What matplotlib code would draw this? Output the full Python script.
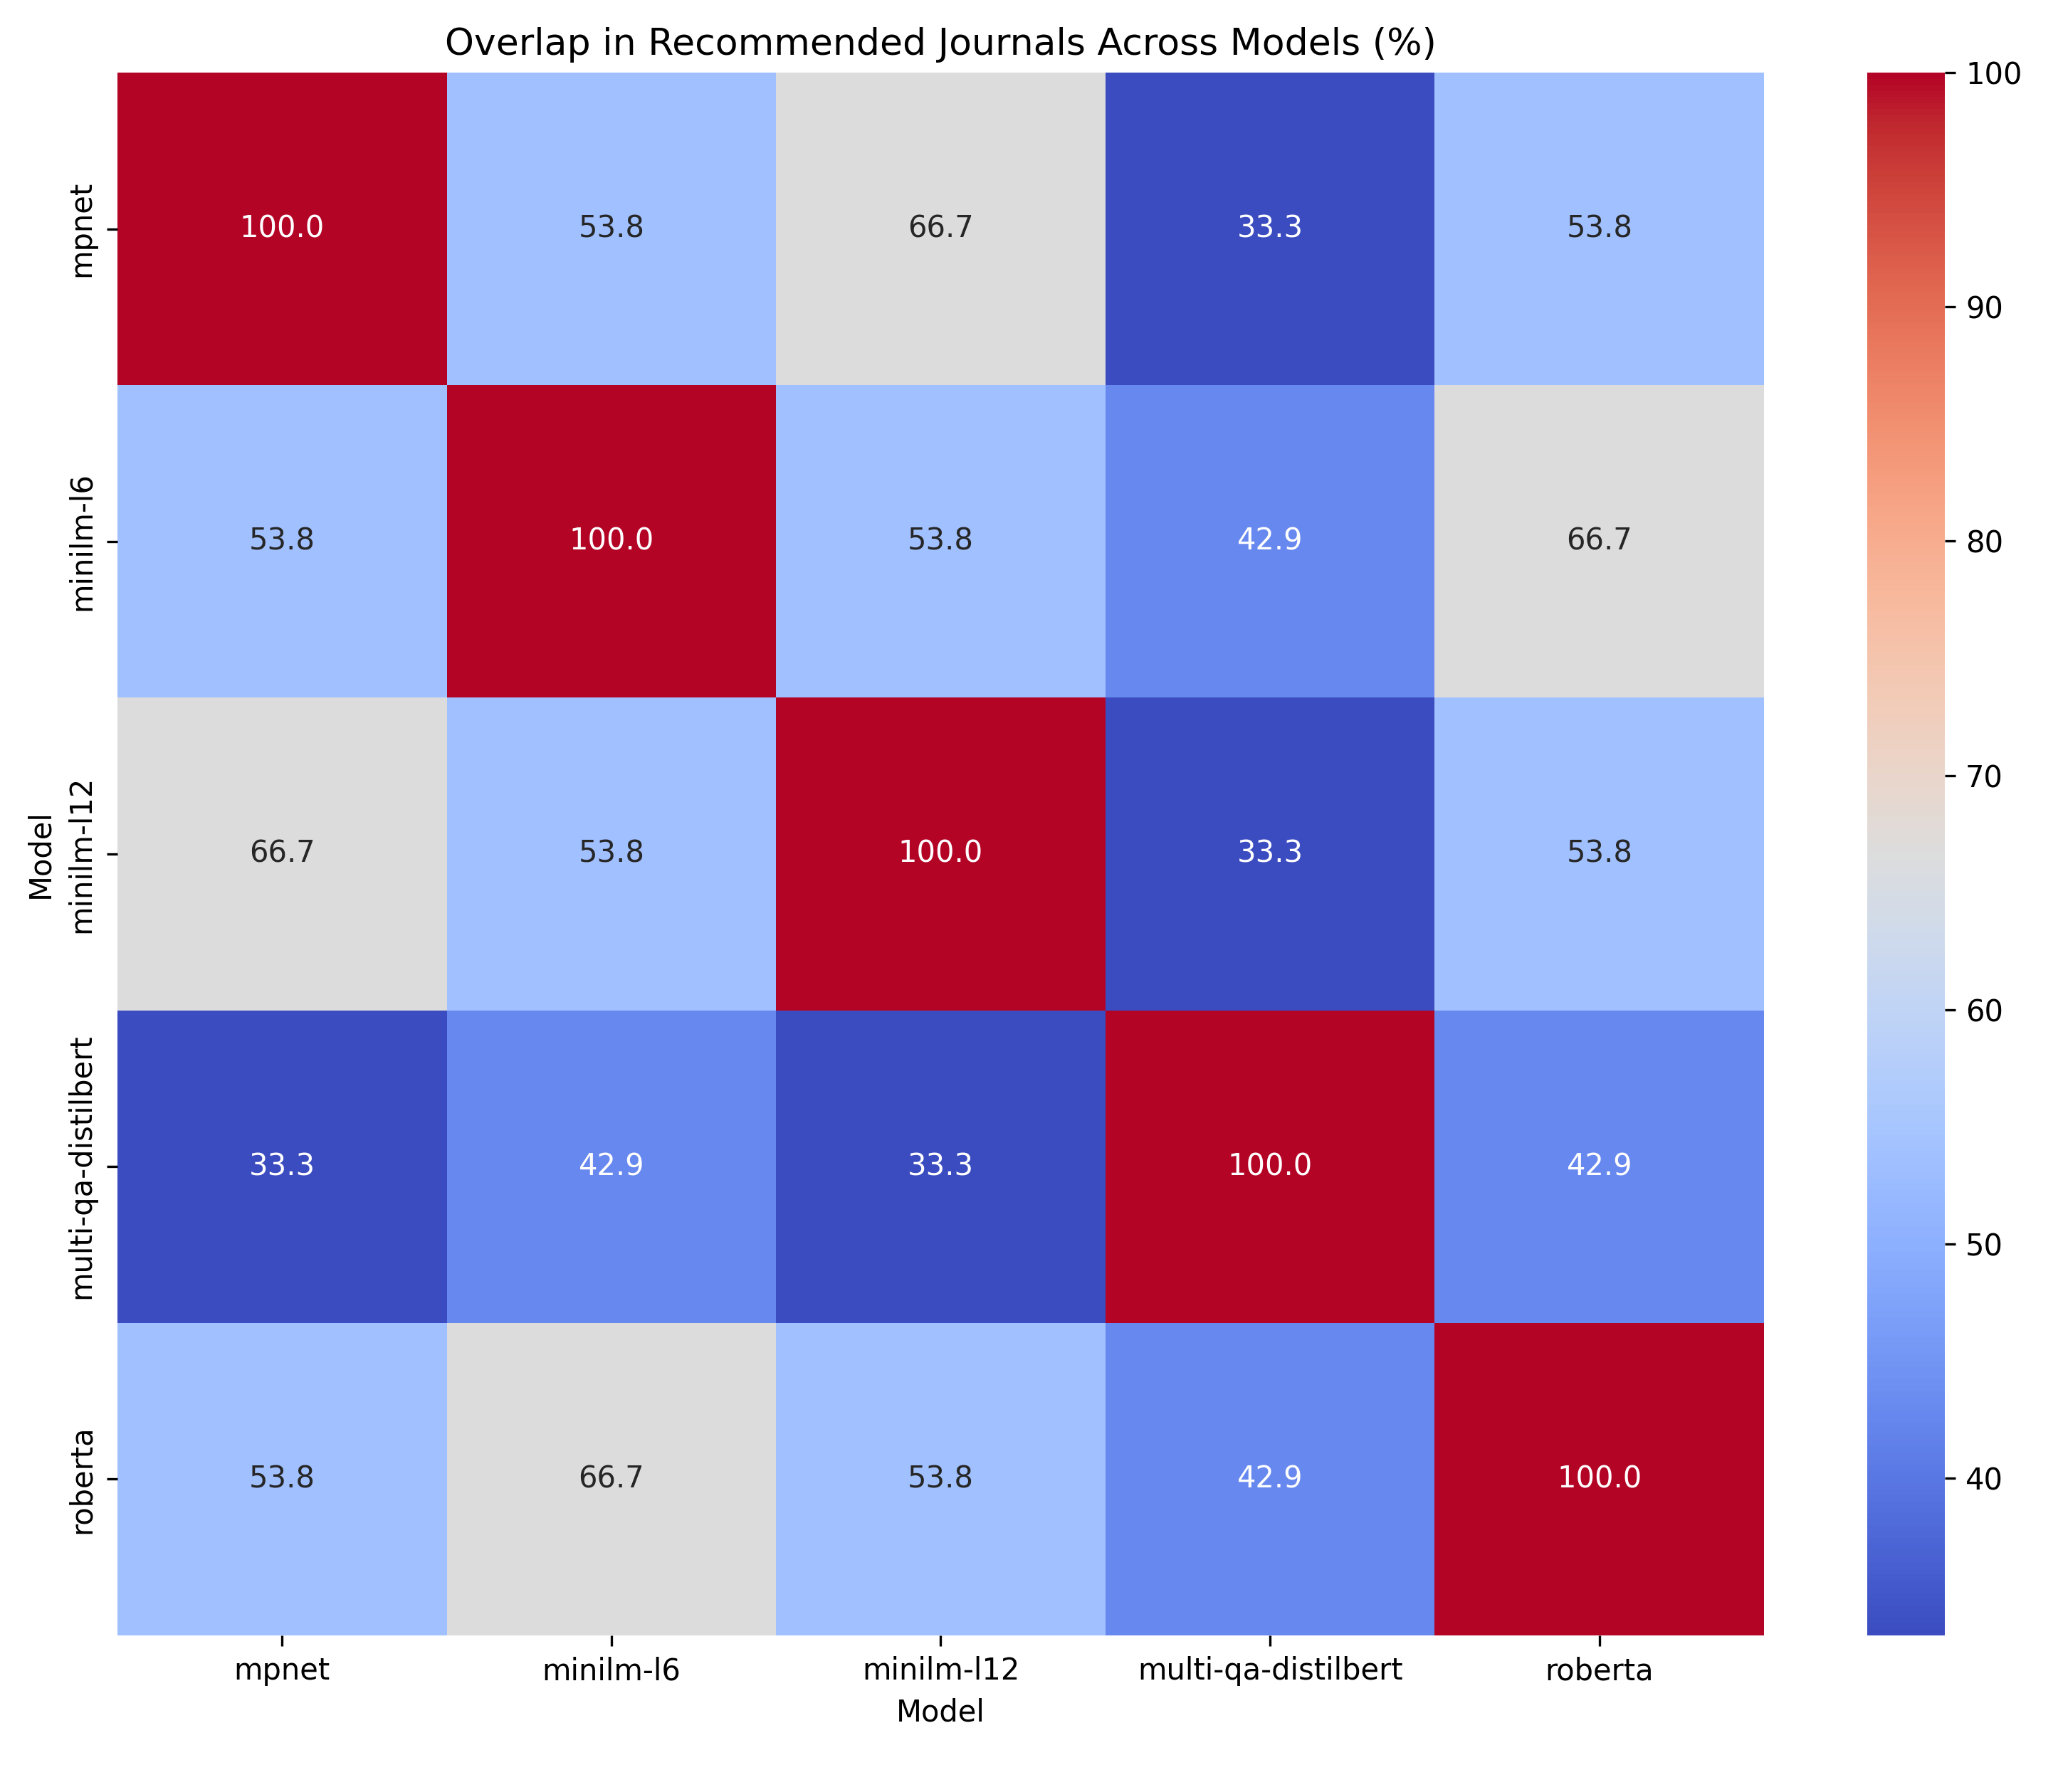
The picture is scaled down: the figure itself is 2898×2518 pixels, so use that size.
import numpy as np
import pandas as pd
import matplotlib
matplotlib.use('Agg')
import matplotlib.pyplot as plt
import seaborn as sns

# modelos y matriz de solapamiento (%)
models = ['mpnet', 'minilm-l6', 'minilm-l12', 'multi-qa-distilbert', 'roberta']
row_mpnet = [100.0, 53.8, 66.7, 33.3, 53.8]
row_l6 = [53.8, 100.0, 53.8, 42.9, 66.7]
row_l12 = [66.7, 53.8, 100.0, 33.3, 53.8]
row_mqa = [33.3, 42.9, 33.3, 100.0, 42.9]
row_roberta = [53.8, 66.7, 53.8, 42.9, 100.0]

overlap = pd.DataFrame([row_mpnet, row_l6, row_l12, row_mqa, row_roberta],
                       index=models, columns=models)

fig = plt.figure(figsize=(2898 / 300, 2518 / 300), dpi=300)
ax = fig.add_axes([0.0569, 0.0874, 0.7982, 0.8721])
cax = fig.add_axes([0.9051, 0.0874, 0.0376, 0.8721])

sns.heatmap(overlap, annot=True, fmt='.1f', cmap='coolwarm',
            ax=ax, cbar_ax=cax)

ax.set_title('Overlap in Recommended Journals Across Models (%)', fontsize=12.5)
ax.set_xlabel('Model')
ax.set_ylabel('Model')

fig.savefig('out.png', dpi=300)
